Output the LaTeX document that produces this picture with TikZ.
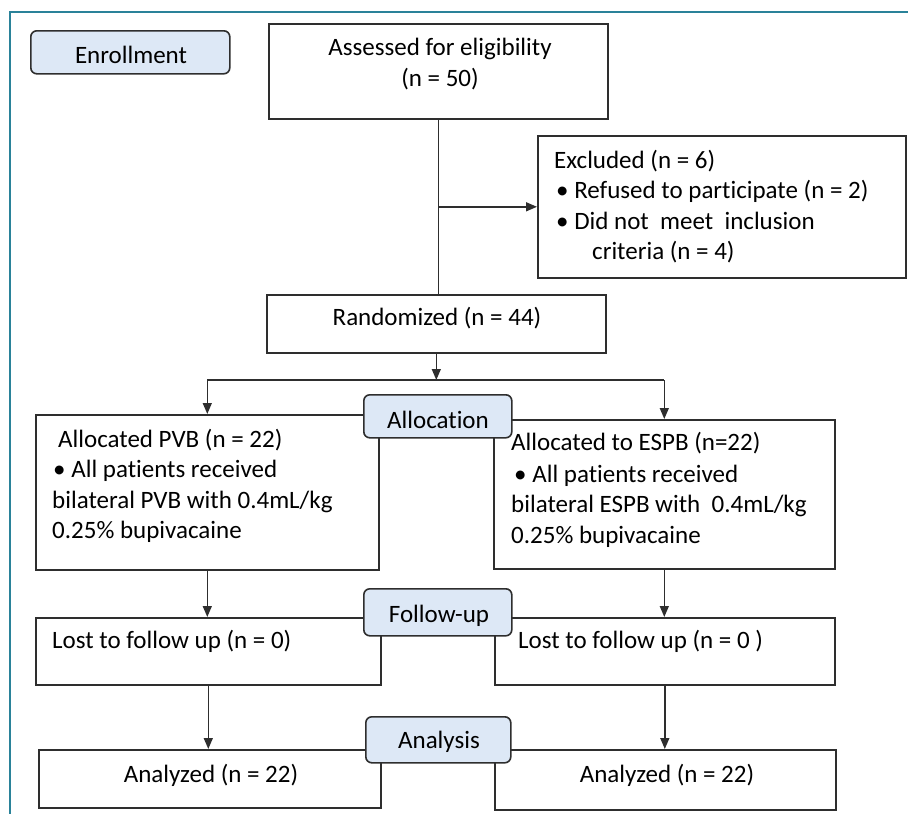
\documentclass[tikz,border=0pt]{standalone}
\usepackage{fontspec}
\setmainfont{Carlito}[Ligatures={NoCommon}]
\usetikzlibrary{arrows.meta}
\definecolor{lblue}{HTML}{DDE8F6}
\definecolor{tealframe}{HTML}{2A8299}
\definecolor{edge}{HTML}{2E2E2E}
\begin{document}
\begin{tikzpicture}[x=1pt,y=-1pt,
  box/.style={draw=edge, line width=1.6pt, inner sep=0pt, anchor=north west},
  stage/.style={draw=edge, line width=1.6pt, fill=lblue, rounded corners=6pt, inner sep=0pt, anchor=north west},
  txt/.style={inner sep=0pt, font=\fontsize{25}{30}\selectfont, text=black},
  ctxt/.style={txt, anchor=base},
  ltxt/.style={txt, anchor=base west},
  ln/.style={draw=edge, line width=1.4pt},
  arr/.style={ln, -{Triangle[length=11pt,width=9pt]}}]
\useasboundingbox (0,0) rectangle (908,814);
\draw[tealframe, line width=1.5pt] (908,12) -- (10,12) -- (10,814);

% boxes
\node[box, minimum width=339pt, minimum height=95pt] (assess) at (268,23) {};
\node[box, minimum width=368pt, minimum height=142pt] (excl) at (537,135) {};
\node[box, minimum width=339pt, minimum height=58pt] (rand) at (266,294) {};
\node[box, minimum width=343pt, minimum height=155pt] (allocL) at (35,414) {};
\node[box, minimum width=341pt, minimum height=149pt] (allocR) at (493,419) {};
\node[box, minimum width=345pt, minimum height=67pt] (lostL) at (35,617) {};
\node[box, minimum width=340pt, minimum height=67pt] (lostR) at (494,617) {};
\node[box, minimum width=342pt, minimum height=58pt] (anaL) at (38,749) {};
\node[box, minimum width=341pt, minimum height=60pt] (anaR) at (494,749) {};

% connectors
\coordinate (lvl) at (0,380);
\coordinate (exJ) at (assess.south |- excl.west);
\draw[ln] (assess.south) -- (assess.south |- rand.north);
\draw[arr] (exJ) -- (excl.west);
\coordinate (split) at (rand.south |- lvl);
\coordinate (splitL) at (allocL.north |- lvl);
\coordinate (splitR) at (allocR.north |- lvl);
\draw[arr] (rand.south) -- (split);
\draw[ln] (splitL) -- (splitR);
\draw[arr] (splitL) -- (allocL.north);
\draw[arr] (splitR) -- (allocR.north);
\draw[arr] (allocL.south) -- (allocL.south |- lostL.north);
\draw[arr] (allocR.south) -- (allocR.south |- lostR.north);
\draw[arr] (lostL.south) -- (lostL.south |- anaL.north);
\draw[arr] (lostR.south) -- (lostR.south |- anaR.north);

% stage labels
\node[stage, minimum width=199pt, minimum height=43pt] (enroll) at (30,30) {};
\node[stage, minimum width=148pt, minimum height=43pt] (alloc) at (363,394) {};
\node[stage, minimum width=148pt, minimum height=47pt] (follow) at (363,588) {};
\node[stage, minimum width=145pt, minimum height=46pt] (analysis) at (365,716) {};

% texts
\node[ctxt] (t-enroll) at (131,63) {Enrollment};
\node[ctxt] (t-alloc) at (438,428) {Allocation};
\node[ctxt] (t-follow) at (439,622) {Follow-up};
\node[ctxt] (t-analysis) at (439,748) {Analysis};

\node[ctxt] (t-assess1) at (440,55) {Assessed for eligibility};
\node[ctxt] (t-assess2) at (440,86) {(n = 50)};

\node[ltxt] (t-excl1) at (554,168) {Excluded (n = 6)};
\node[ltxt] (t-excl2) at (556,198.5) {• Refused to participate (n = 2)};
\node[ltxt] (t-excl3) at (556,229) {• Did not\ \ meet\ \ inclusion};
\node[ltxt] (t-excl4) at (592,259.5) {criteria (n = 4)};

\node[ctxt] (t-rand) at (437,325) {Randomized (n = 44)};

\node[ltxt] (t-aL1) at (58,447) {Allocated PVB (n = 22)};
\node[ltxt] (t-aL2) at (53,477) {• All patients received};
\node[ltxt] (t-aL3) at (52,508) {bilateral PVB with 0.4mL/kg};
\node[ltxt] (t-aL4) at (52,538) {0.25\% bupivacaine};

\node[ltxt] (t-aR1) at (511,450) {Allocated to ESPB (n=22)};
\node[ltxt] (t-aR2) at (514,482) {• All patients received};
\node[ltxt] (t-aR3) at (511,512) {bilateral ESPB with\ \ 0.4mL/kg};
\node[ltxt] (t-aR4) at (511,543) {0.25\% bupivacaine};

\node[ltxt] (t-lostL) at (52,648) {Lost to follow up (n = 0)};
\node[ltxt] (t-lostR) at (518,648) {Lost to follow up (n = 0 )};

\node[ctxt] (t-anaL) at (211,782) {Analyzed (n = 22)};
\node[ctxt] (t-anaR) at (667,782) {Analyzed (n = 22)};
\end{tikzpicture}
\end{document}
